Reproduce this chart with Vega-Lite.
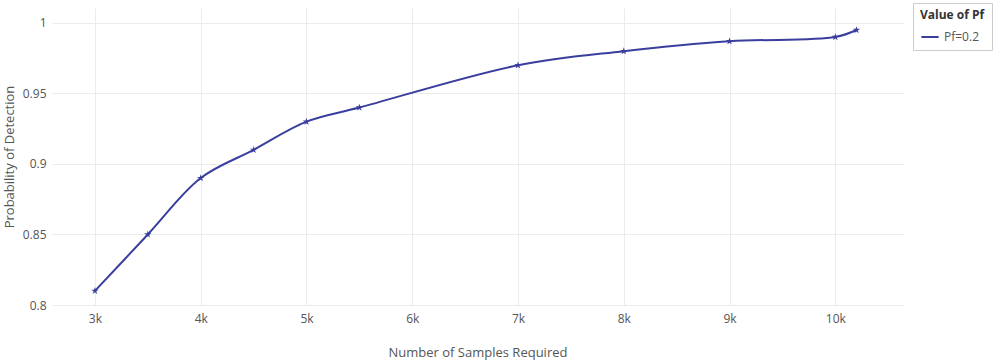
{
  "$schema": "https://vega.github.io/schema/vega-lite/v6.json",
  "autosize": {"type": "none"},
  "width": 851,
  "height": 297,
  "padding": {"left": 52, "top": 8, "right": 97, "bottom": 58},
  "background": "white",
  "config": {
    "font": "Open Sans",
    "view": {"stroke": null},
    "axis": {
      "grid": true,
      "gridColor": "#ebebeb",
      "gridWidth": 1,
      "domain": false,
      "ticks": false,
      "labelColor": "#555",
      "labelFontSize": 12,
      "titleColor": "#555",
      "titleFontSize": 13,
      "titleFontWeight": "normal"
    }
  },
  "data": {
    "values": [
      {"samples": 3000, "pd": 0.81, "series": "Pf=0.2"},
      {"samples": 3500, "pd": 0.85, "series": "Pf=0.2"},
      {"samples": 4000, "pd": 0.89, "series": "Pf=0.2"},
      {"samples": 4500, "pd": 0.91, "series": "Pf=0.2"},
      {"samples": 5000, "pd": 0.93, "series": "Pf=0.2"},
      {"samples": 5500, "pd": 0.94, "series": "Pf=0.2"},
      {"samples": 7000, "pd": 0.97, "series": "Pf=0.2"},
      {"samples": 8000, "pd": 0.98, "series": "Pf=0.2"},
      {"samples": 9000, "pd": 0.987, "series": "Pf=0.2"},
      {"samples": 10000, "pd": 0.99, "series": "Pf=0.2"},
      {"samples": 10200, "pd": 0.995, "series": "Pf=0.2"}
    ]
  },
  "encoding": {
    "x": {
      "field": "samples",
      "type": "quantitative",
      "scale": {"domain": [2594, 10640], "nice": false, "zero": false},
      "axis": {
        "values": [3000, 4000, 5000, 6000, 7000, 8000, 9000, 10000],
        "labelExpr": "datum.value / 1000 + 'k'",
        "labelPadding": 8,
        "title": "Number of Samples Required",
        "titlePadding": 22
      }
    },
    "y": {
      "field": "pd",
      "type": "quantitative",
      "scale": {"domain": [0.8, 1.0106], "nice": false, "zero": false},
      "axis": {
        "values": [0.8, 0.85, 0.9, 0.95, 1],
        "labelExpr": "format(datum.value, '~g')",
        "labelPadding": 6,
        "title": "Probability of Detection",
        "titlePadding": 6
      }
    },
    "color": {
      "field": "series",
      "type": "nominal",
      "scale": {"range": ["#3a3f9e"]},
      "legend": {
        "title": "Value of Pf",
        "titleFontSize": 12,
        "titleFontWeight": "bold",
        "titleColor": "#333",
        "labelFontSize": 12,
        "labelColor": "#555",
        "symbolType": "stroke",
        "symbolStrokeWidth": 2,
        "symbolSize": 300,
        "orient": "none",
        "legendX": 861,
        "legendY": -5,
        "strokeColor": "#cccccc",
        "padding": 7,
        "fillColor": "white"
      }
    }
  },
  "layer": [
    {
      "mark": {"type": "line", "interpolate": "catmull-rom", "strokeWidth": 2}
    },
    {
      "mark": {
        "type": "point",
        "filled": true,
        "opacity": 1,
        "size": 60,
        "shape": "M0,-1L0.22,-0.31L0.95,-0.31L0.36,0.12L0.59,0.81L0,0.38L-0.59,0.81L-0.36,0.12L-0.95,-0.31L-0.22,-0.31Z"
      }
    }
  ]
}
